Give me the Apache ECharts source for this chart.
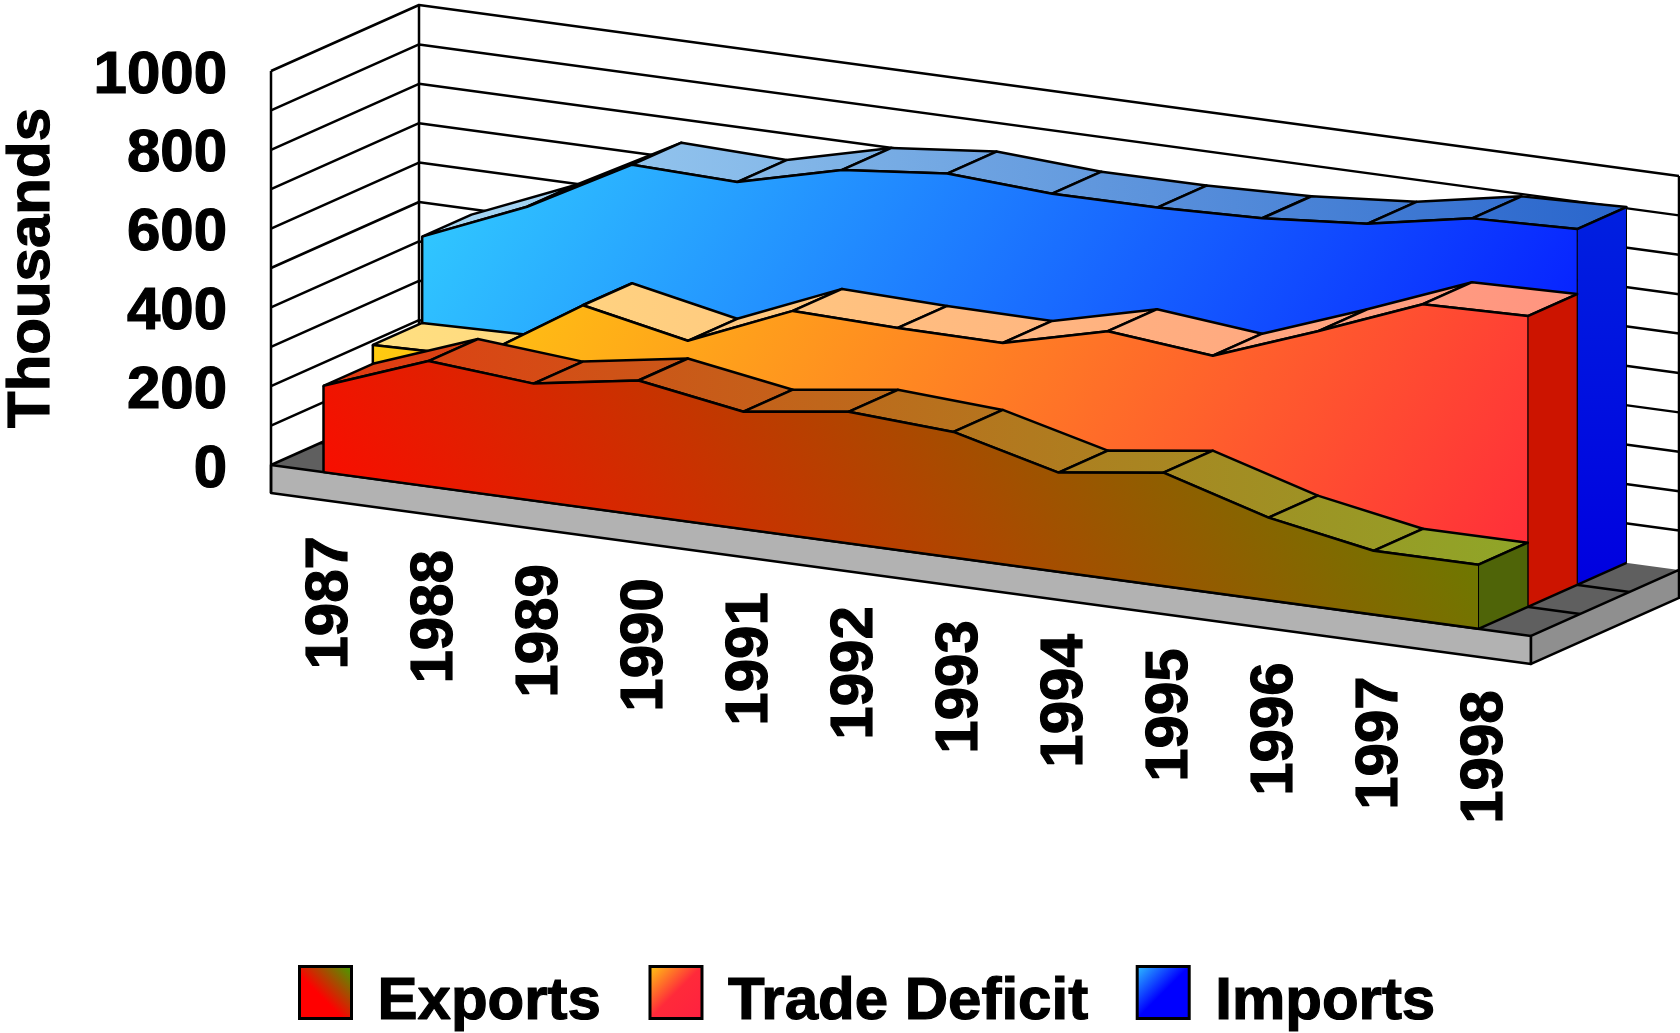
<!DOCTYPE html>
<html>
<head>
<meta charset="utf-8">
<style>html,body{margin:0;padding:0;background:#fff}#c{width:1680px;height:1033px}</style>
<script src="https://cdn.jsdelivr.net/npm/echarts@6/dist/echarts.min.js"></script>
</head>
<body>
<div id="c"></div>
<script>
const years = ['1987','1988','1989','1990','1991','1992','1993','1994','1995','1996','1997','1998'];
const exportsData = [219,318,297,341,298,334,319,252,288,210,162,163];
const tradeDeficit = [267,273,440,386,498,491,489,555,529,627,732,738];
const importsData = [486,598,741,733,800,827,812,813,822,844,894,903];
const wallTicks = [0,100,200,300,400,500,600,700,800,900,1000];
const FONT = '"Liberation Sans", Arial, sans-serif';

// oblique projection of the chart's plane
const DX = 148, DY = 66, SLOPE = 0.1357, PLINTH = 28, LW = 2.5;
const proj = (cs, p, d) => [p[0] + d * DX, p[1] + (p[0] - cs.x) * SLOPE - d * DY];
const poly = (points, fill, z2, stroke, lw) => ({
  type: 'polygon', z2, silent: true, shape: {points},
  style: {fill, stroke: stroke || 'none', lineWidth: lw == null ? 1 : lw, lineJoin: 'round'}
});
const line = (points, z2, lw) => ({
  type: 'polyline', z2, silent: true, shape: {points},
  style: {fill: 'none', stroke: '#000', lineWidth: lw == null ? LW : lw, lineJoin: 'round'}
});
const grad = (x, y, x2, y2, stops) => new echarts.graphic.LinearGradient(x, y, x2, y2,
  stops.map((c, k) => ({offset: Array.isArray(c) ? c[0] : k / (stops.length - 1), color: Array.isArray(c) ? c[1] : c})));

function wallRender(params, api) {
  const cs = params.coordSys, v = api.value(0), y = api.coord([0, v])[1];
  const L = cs.x, R = cs.x + cs.width;
  const a = proj(cs, [L, y], 0), b = proj(cs, [L, y], 1), c = proj(cs, [R, y], 1);
  const kids = [];
  if (params.dataIndex === 0) {
    const topY = cs.y;
    const A = proj(cs, [L, y], 0), B = proj(cs, [R, y], 0), C = proj(cs, [R, y], 1), D = proj(cs, [L, y], 1);
    kids.push(poly([A, B, C, D], '#5f5f5f', 1));
    [1 / 3, 2 / 3].forEach(d => kids.push(line([proj(cs, [L, y], d), proj(cs, [R, y], d)], 2)));
    const dn = p => [p[0], p[1] + PLINTH];
    kids.push(poly([A, B, dn(B), dn(A)], '#b2b2b2', 3, '#000', LW));
    kids.push(poly([B, C, dn(C), dn(B)], '#8f8f8f', 3, '#000', LW));
    kids.push(line([proj(cs, [L, topY], 0), dn(A)], 3));
    kids.push(line([proj(cs, [L, topY], 1), D], 2));
    kids.push(line([proj(cs, [R, topY], 1), C], 2));
    kids.push(line([A, D], 3));
  } else {
    kids.push(line([a, b, c], 2));
  }
  return {type: 'group', children: kids};
}

function slabRender(values, d0, d1, st) {
  return function (params, api) {
    const cs = params.coordSys, i = params.dataIndex, n = values.length, kids = [];
    const pt = (k, v, d) => proj(cs, api.coord([k, v]), d);
    if (i < n - 1) {
      const t0 = i / (n - 1), t1 = (i + 1) / (n - 1);
      const f = grad(0, 0, 1, 0, [echarts.color.lerp(t0, st.top), echarts.color.lerp(t1, st.top)]);
      kids.push(poly([pt(i, values[i], d0), pt(i + 1, values[i + 1], d0), pt(i + 1, values[i + 1], d1), pt(i, values[i], d1)], f, 1, '#000', LW));
    } else {
      const front = values.map((v, k) => pt(k, v, d0));
      const base = [pt(n - 1, 0, d0), pt(0, 0, d0)];
      kids.push(poly(front.concat(base), st.front, 5, '#000', 1));
      kids.push(line(front, 6));
      kids.push(line(base, 6));
      kids.push(line([front[0], base[1]], 6));
      const side = [pt(n - 1, values[n - 1], d0), pt(n - 1, values[n - 1], d1), pt(n - 1, 0, d1), pt(n - 1, 0, d0)];
      kids.push(poly(side, st.side, 4, '#000', 1));
      kids.push(line(side.slice(0, 2), 6));
      kids.push(line(side.slice(2), 6));
    }
    return {type: 'group', children: kids};
  };
}

function yearRender(params, api) {
  const cs = params.coordSys, i = params.dataIndex;
  const p = proj(cs, [api.coord([i, 0])[0], cs.y + cs.height], 0);
  return {
    type: 'text', silent: true, x: p[0] + 7, y: p[1] + 64 - i * 0.23, rotation: Math.PI / 2,
    style: {text: years[i], font: 'bold 60px ' + FONT, fill: '#000', stroke: '#000', lineWidth: 1.2, align: 'right', verticalAlign: 'middle'}
  };
}

const styles = {
  exp: {
    front: grad(0, 0.41, 1, -2.59, ['#f80e00', '#20b400']),
    top: ['#e23a12', '#8fa628'],
    side: '#4f6408',
    legend: grad(0, 1, 1, 0, [[0, '#ff0000'], [0.42, '#ff0000'], [1, '#3aa800']])
  },
  def: {
    front: grad(0, 0.13, 0.8, 2.13, ['#ffcc10', '#ff2a3a']),
    top: ['#ffe080', '#ff9480'],
    side: '#cc1400',
    legend: grad(0, 0, 1, 1, [[0, '#ffd010'], [0.5, '#ff2a3a'], [1, '#ff2040']])
  },
  imp: {
    front: grad(0, 0.17, 0.85, 1.69, ['#30c6ff', '#0008ff']),
    top: ['#a8d8f4', '#2a66cc'],
    side: grad(0, 0, 0, 1, ['#0020e0', '#0000e0']),
    legend: grad(0, 0, 1, 1, [[0, '#30c8ff'], [0.5, '#0000ff'], [1, '#0000ff']])
  }
};
const asData = vals => vals.map((v, i) => [i, v]);
const slab = (name, vals, d0, d1, st, z) => ({
  name, type: 'custom', coordinateSystem: 'cartesian2d', z, silent: true,
  itemStyle: {color: st.legend},
  renderItem: slabRender(vals, d0, d1, st),
  encode: {x: 0, y: 1},
  data: asData(vals)
});
const heavy = {fontFamily: FONT, fontWeight: 'bold', fontSize: 60, color: '#000', textBorderColor: '#000', textBorderWidth: 1.2};

const chart = echarts.init(document.getElementById('c'), null, {renderer: 'canvas'});
chart.setOption({
  animation: false,
  backgroundColor: '#fff',
  grid: {left: 271, right: 149, top: 71, bottom: 568, containLabel: false, outerBoundsMode: 'none'},
  xAxis: {type: 'category', data: years, boundaryGap: true, show: false},
  yAxis: {
    type: 'value', min: 0, max: 1000, interval: 200,
    name: 'Thousands', nameLocation: 'middle', nameRotate: 90, nameGap: 209, nameMoveOverlap: false,
    nameTextStyle: heavy,
    axisLine: {show: false}, axisTick: {show: false}, splitLine: {show: false},
    axisLabel: Object.assign({margin: 44, verticalAlign: 'top', lineHeight: 10, formatter: v => String(v)}, heavy)
  },
  legend: {
    left: 298, top: 965, padding: 0, itemWidth: 52, itemHeight: 52, itemGap: 47, icon: 'rect', selectedMode: false,
    formatter: n => '{t|' + n + '}',
    textStyle: {rich: {t: Object.assign({}, heavy, {padding: [20, 0, 0, 21]})}},
    data: [
      {name: 'Exports', itemStyle: {color: styles.exp.legend, borderColor: '#000', borderWidth: 3}},
      {name: 'Trade Deficit', itemStyle: {color: styles.def.legend, borderColor: '#000', borderWidth: 3}},
      {name: 'Imports', itemStyle: {color: styles.imp.legend, borderColor: '#000', borderWidth: 3}}
    ]
  },
  series: [
    {type: 'custom', name: 'walls', coordinateSystem: 'cartesian2d', z: 1, silent: true, renderItem: wallRender,
      encode: {y: 0}, data: wallTicks.map(v => [v])},
    slab('Imports', importsData, 2 / 3, 1, styles.imp, 2),
    slab('Trade Deficit', tradeDeficit, 1 / 3, 2 / 3, styles.def, 3),
    slab('Exports', exportsData, 0, 1 / 3, styles.exp, 4),
    {type: 'custom', name: 'years', coordinateSystem: 'cartesian2d', z: 5, silent: true, renderItem: yearRender,
      encode: {x: 0, y: 1}, data: years.map((y, i) => [i, 0])}
  ]
});
</script>
</body>
</html>
